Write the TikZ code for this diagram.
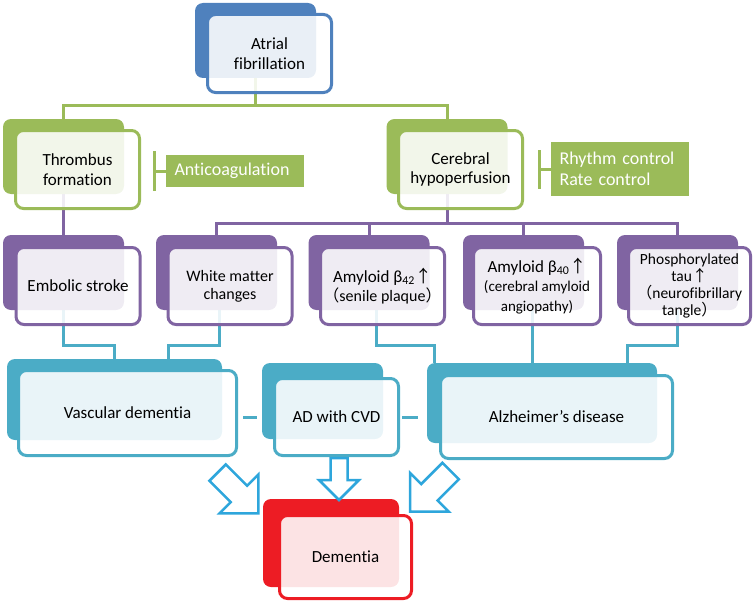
\documentclass[tikz,border=0pt]{standalone}
\usepackage{fontspec}
\setmainfont{Carlito}[Ligatures=NoCommon]
\newfontfamily\cjk{Noto Sans CJK JP}
\usetikzlibrary{arrows.meta,backgrounds,calc}

\definecolor{afblue}{HTML}{4F81BD}
\definecolor{agreen}{HTML}{9BBB59}
\definecolor{apurple}{HTML}{8064A2}
\definecolor{aqua}{HTML}{4BACC6}
\definecolor{ared}{HTML}{ED1C24}
\definecolor{arrblue}{HTML}{2EA6DC}

\newcommand{\uparr}{{\cjk ↑}}
\newcommand{\jlp}{{\cjk （}}
\newcommand{\jrp}{{\cjk ）}}
\newcommand{\subfont}{\fontsize{15}{16}\selectfont}

\tikzset{
  back/.style={fill=#1, rounded corners=8pt, inner sep=0pt,
    minimum width=121pt, minimum height=75pt},
  front/.style={draw=#1, line width=3pt, rounded corners=8pt, fill=white,
    fill opacity=0.88, text opacity=1, align=center, inner sep=0pt,
    minimum width=124pt, minimum height=78pt,
    font=\fontsize{17}{19.5}\selectfont},
  therapy/.style={fill=agreen, text=white, align=left, text width=121pt,
    inner xsep=8.5pt, inner ysep=0pt, minimum height=32pt,
    font=\fontsize{18}{21.5}\selectfont},
  gline/.style={agreen, line width=3pt},
  pline/.style={apurple, line width=3pt},
  cline/.style={aqua, line width=3pt},
  blockarr/.pic={
    \draw[arrblue, line width=2.5pt, fill=white, line join=miter]
      (0,0) -- (20,-20) -- (8.5,-20) -- (8.5,-42) -- (-8.5,-42)
      -- (-8.5,-20) -- (-20,-20) -- cycle;}
}

\begin{document}
\begin{tikzpicture}[x=1pt,y=-1pt]
\useasboundingbox (0,0) rectangle (755,602);

% cause
\node[back=afblue] (af-b) at (255.5,40.5) {};
\node[front=afblue] (af) at (269.5,53.5) {Atrial\\fibrillation};

% mechanisms
\node[back=agreen] (tf-b) at (63.5,156.5) {};
\node[front=agreen] (tf) at (77.5,169.5) {Thrombus\\formation};
\node[back=agreen] (ch-b) at (447,156.5) {};
\node[front=agreen] (ch) at (460.5,169.5) {Cerebral\\hypoperfusion};

\node[therapy] (ac) at (235,171) {Anticoagulation};
\node[therapy, minimum height=54pt] (rc) at (620,169) {Rhythm control\\Rate control};
\draw[gline, {Bar[width=40pt]}-] ($(ac.west)+(-13,0)$) -- (ac.west);
\draw[gline, {Bar[width=39pt]}-] ($(rc.west)+(-13,0)$) -- (rc.west);

% pathology
\node[back=apurple] (es-b) at (63.5,272.5) {};
\node[front=apurple, minimum height=77pt] (es) at (78,286) {Embolic stroke};
\node[back=apurple] (wm-b) at (216.5,272.5) {};
\node[front=apurple, minimum height=77pt, font=\fontsize{16}{18}\selectfont] (wm) at (230,286) {White matter\\changes};
\node[back=apurple] (a42-b) at (369,272.5) {};
\node[front=apurple, minimum height=77pt] (a42) at (382.5,286)
  {Amyloid β\textsubscript{42}\uparr\\\fontsize{16}{17}\selectfont\jlp senile plaque\jrp};
\node[back=apurple] (a40-b) at (523.5,272.5) {};
\node[front=apurple, minimum height=77pt, minimum width=127pt] (a40) at (537,286)
  {Amyloid β\textsubscript{40}\uparr\\\subfont (cerebral amyloid\\\subfont angiopathy)};
\node[back=apurple] (ph-b) at (677.5,272.5) {};
\node[front=apurple, minimum height=77pt, minimum width=122pt, font=\fontsize{15.5}{17}\selectfont] (ph) at (689.5,286)
  {Phosphorylated\\tau\uparr\\\jlp neurofibrillary\\tangle\jrp};

% dementia types
\node[back=aqua, minimum width=215pt, minimum height=81pt] (vd-b) at (114.5,399.5) {};
\node[front=aqua, minimum width=218pt, minimum height=85pt] (vd) at (127.5,413) {Vascular dementia};
\node[back=aqua, minimum height=76pt] (ad-b) at (322.5,401) {};
\node[front=aqua, minimum height=77pt] (ad) at (336.5,417) {AD with CVD};
\node[back=aqua, minimum width=230pt, minimum height=80pt] (az-b) at (542,403) {};
\node[front=aqua, minimum width=232pt, minimum height=83pt] (az) at (556.5,417) {Alzheimer’s disease};

% outcome
\node[back=ared, minimum width=136pt, minimum height=88pt] (dm-b) at (331,543) {};
\node[front=ared, minimum width=132pt, minimum height=83pt] (dm) at (345.5,557) {Dementia};

\begin{pgfonlayer}{background}
  \draw[gline] (af-b.south) -- ++(0,27) coordinate (gj);
  \draw[gline] (tf-b.north) |- (gj) -| (ch-b.north);
  \draw[pline] (tf-b.south) -- (es-b.north);
  \draw[pline] (ch-b.south) -- ++(0,29) coordinate (pj);
  \draw[pline] (wm-b.north) |- (pj) -| (ph-b.north);
  \draw[pline] (a42-b.north) -- (a42-b.north |- pj);
  \draw[pline] (a40-b.north) -- (a40-b.north |- pj);
  \draw[cline] (es-b.south) -- ++(0,35) -| (vd-b.north);
  \draw[cline] ($(wm-b.south)+(2.5,0)$) -- ++(0,35) -| ($(vd-b.north west)!0.75!(vd-b.north east)$);
  \draw[cline] ($(a42-b.south)+(7,0)$) -- ++(0,35) -| ($(az-b.north west)+(8,0)$);
  \draw[cline] (a40-b.south) ++(9,0) coordinate (a40c) -- (a40c |- az-b.north);
  \draw[cline] (ph-b.south) -- ++(0,35) -| ($(az-b.north east)+(-30,0)$);
\end{pgfonlayer}
\draw[cline, shorten <=5pt, shorten >=5pt] (vd.east |- ad) -- (ad-b.west |- ad);
\draw[cline, shorten <=2pt, shorten >=9pt] (ad.east) -- (az-b.west |- ad);

% block arrows into dementia
\pic[rotate=45, scale=1.37] at (258.3,513.3) {blockarr};
\pic at (339,500) {blockarr};
\pic[rotate=-45, scale=1.37] at (410,511.7) {blockarr};
\end{tikzpicture}
\end{document}
